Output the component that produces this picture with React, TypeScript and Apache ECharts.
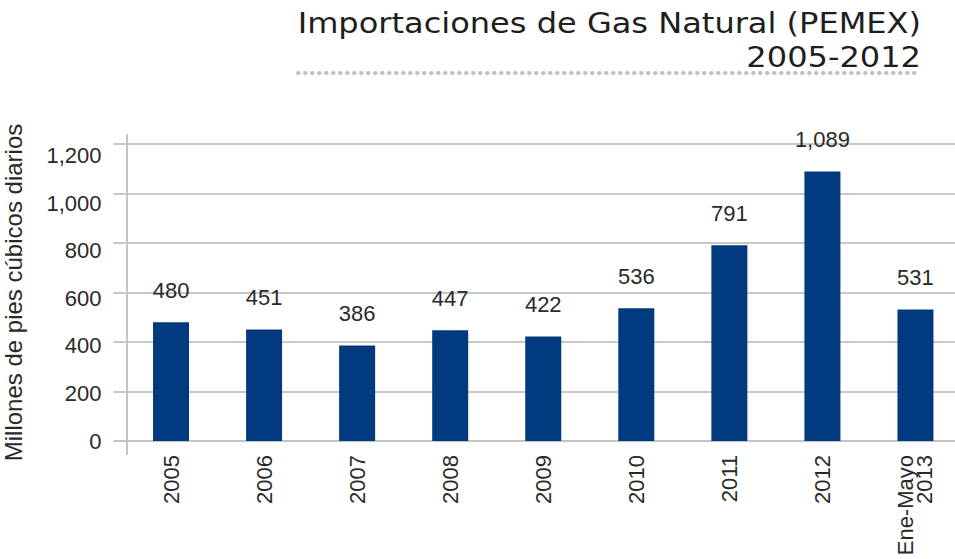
import React, { useEffect, useRef } from "react";
import * as echarts from "echarts";

const categories = ["2005", "2006", "2007", "2008", "2009", "2010", "2011", "2012", "Ene-Mayo\n2013"];
const imports = [480, 451, 386, 447, 422, 536, 791, 1089, 531];
const titleLine1 = "Importaciones de Gas Natural (PEMEX)";
const titleLine2 = "2005-2012";
const yAxisName = "Millones de pies cúbicos diarios";

const FONT = "'Liberation Sans', Arial, Helvetica, sans-serif";
const TITLE_FONT = "'DejaVu Sans', 'Liberation Sans', sans-serif";
const fmt = (v: number) => Number(v).toLocaleString("en-US");

export default function App() {
  const ref = useRef<HTMLDivElement>(null);
  useEffect(() => {
    if (!ref.current) return;
    const chart = echarts.init(ref.current, undefined, { renderer: "svg" });
    chart.setOption({
      animation: false,
      backgroundColor: "#ffffff",
      textStyle: { fontFamily: FONT },
      grid: {
        left: 124.5,
        top: 144,
        width: 837.5,
        height: 297,
        containLabel: false,
        outerBoundsMode: "none",
      },
      xAxis: {
        type: "category",
        data: categories,
        axisLine: { show: true, lineStyle: { color: "#c4c4c4", width: 2 } },
        axisTick: { show: false },
        axisLabel: {
          rotate: 90,
          margin: 14,
          fontSize: 22,
          color: "#2a2a2a",
          fontFamily: FONT,
          lineHeight: 19,
        },
      },
      yAxis: [
        {
          type: "value",
          min: 0,
          max: 1200,
          interval: 200,
          name: yAxisName,
          nameLocation: "middle",
          nameRotate: 90,
          nameGap: 99,
          nameTextStyle: { fontSize: 24, color: "#2a2a2a", fontFamily: FONT },
          axisLine: { show: false },
          axisTick: { show: true, length: 11, lineStyle: { color: "#c4c4c4", width: 2 } },
          axisLabel: { show: false },
          splitLine: { show: true, lineStyle: { color: "#c8c8c8", width: 2 } },
        },
        {
          type: "value",
          position: "left",
          min: 0,
          max: 1250.5,
          interval: 200,
          axisLine: { show: false },
          axisTick: { show: false },
          splitLine: { show: false },
          axisLabel: {
            margin: 23,
            fontSize: 22,
            color: "#2a2a2a",
            fontFamily: FONT,
            showMaxLabel: false,
            formatter: (v: number) => (v > 1200 ? "" : fmt(v)),
          },
        },
      ],
      series: [
        {
          type: "bar",
          data: imports,
          barWidth: 36,
          yAxisIndex: 0,
          itemStyle: { color: "#023a80" },
          label: {
            show: true,
            position: "top",
            distance: 21,
            fontSize: 22,
            color: "#2a2a2a",
            fontFamily: FONT,
            formatter: (p: any) => fmt(p.value),
          },
        },
      ],
      graphic: [
        {
          type: "line",
          shape: { x1: 127, y1: 134, x2: 127, y2: 455 },
          style: { stroke: "#c4c4c4", lineWidth: 2 },
          z: 10,
        },
        {
          type: "text",
          x: 921,
          y: 23,
          scaleX: 1.145,
          style: {
            text: titleLine1,
            align: "right",
            verticalAlign: "middle",
            fontSize: 28,
            fill: "#1e1e1e",
            fontFamily: TITLE_FONT,
          },
        },
        {
          type: "text",
          x: 921,
          y: 57,
          scaleX: 1.145,
          style: {
            text: titleLine2,
            align: "right",
            verticalAlign: "middle",
            fontSize: 28,
            fill: "#1e1e1e",
            fontFamily: TITLE_FONT,
          },
        },
        {
          type: "line",
          shape: { x1: 298, y1: 73, x2: 920, y2: 73 },
          style: { stroke: "#c0c0c0", lineWidth: 4, lineDash: [0.5, 6.5], lineCap: "round" },
        },
      ],
    });
    return () => chart.dispose();
  }, []);
  return (
    <div
      ref={ref}
      style={{ position: "absolute", left: 0, top: 0, width: 955, height: 559 }}
    />
  );
}
